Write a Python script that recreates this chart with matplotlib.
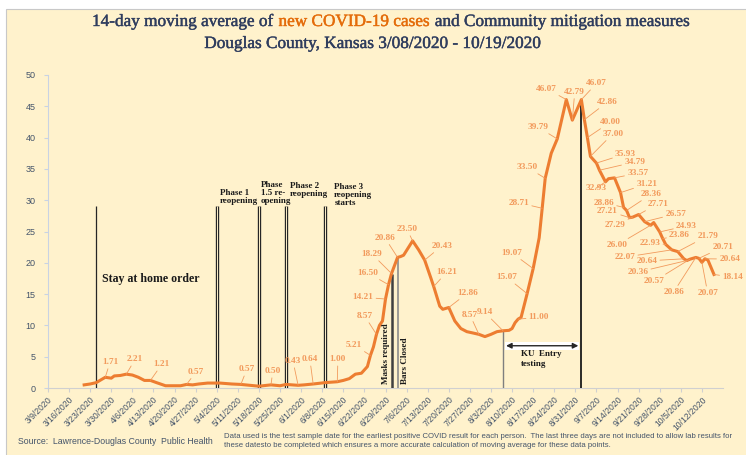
import numpy as np
import pandas as pd
import matplotlib
matplotlib.use("Agg")
import matplotlib.pyplot as plt
import matplotlib.dates as mdates
import matplotlib.patheffects as pe
from matplotlib.patches import Rectangle

# 14-day moving average of new cases
dates = ["3/21", "3/23", "3/25", "3/28", "3/30", "3/31", "4/2", "4/4", "4/6", "4/8",
         "4/10", "4/12", "4/14", "4/17", "4/22", "4/24", "4/26", "4/28", "5/1", "5/5",
         "5/9", "5/12", "5/15", "5/18", "5/22", "5/25", "5/27", "5/31", "6/2", "6/5",
         "6/9", "6/13", "6/15", "6/17", "6/19", "6/21", "6/23", "6/24", "6/25", "6/26",
         "6/27", "6/28", "6/29", "6/30", "7/1", "7/3", "7/4", "7/5", "7/8", "7/10",
         "7/12", "7/14", "7/15", "7/17", "7/18", "7/20", "7/22", "7/24", "7/26", "7/28",
         "7/30", "8/1", "8/3", "8/5", "8/7", "8/9", "8/10", "8/11", "8/12", "8/13",
         "8/15", "8/17", "8/19", "8/20", "8/21", "8/23", "8/25", "8/28", "8/30", "9/2",
         "9/3", "9/4", "9/5", "9/7", "9/8", "9/10", "9/11", "9/13", "9/15", "9/16",
         "9/17", "9/18", "9/19", "9/21", "9/23", "9/25", "9/26", "9/28", "9/29", "9/30",
         "10/2", "10/4", "10/6", "10/7", "10/8", "10/10", "10/11", "10/12", "10/13", "10/14",
         "10/16"]
cases = [0.50, 0.64, 0.86, 1.71, 1.57, 1.93, 2.00, 2.21, 2.07, 1.71,
         1.21, 1.21, 0.86, 0.36, 0.36, 0.57, 0.50, 0.64, 0.79, 0.79,
         0.64, 0.57, 0.43, 0.29, 0.50, 0.36, 0.57, 0.43, 0.50, 0.64,
         0.86, 1.00, 1.21, 1.50, 2.21, 2.36, 3.43, 5.21, 6.57, 8.57,
         10.00, 10.71, 14.21, 16.50, 18.29, 20.86, 21.00, 21.21, 23.50, 22.07,
         20.43, 17.64, 16.21, 13.07, 12.57, 12.86, 10.71, 9.50, 9.00, 8.79,
         8.57, 8.21, 8.57, 9.00, 9.14, 9.21, 9.50, 10.43, 11.00, 11.29,
         15.07, 19.07, 24.00, 28.71, 33.50, 37.50, 39.79, 46.07, 42.79, 46.07,
         42.86, 40.00, 37.00, 35.93, 34.79, 32.93, 33.43, 33.57, 31.21, 28.86,
         28.36, 27.21, 27.29, 27.71, 26.57, 26.00, 26.43, 24.93, 23.86, 22.93,
         22.07, 21.79, 20.64, 20.36, 20.57, 20.86, 20.71, 20.07, 20.64, 20.43,
         18.14]

# points with a value label, and where each label sits (days after 3/9, cases)
label_dates = ["3/28", "4/4", "4/12", "4/24", "5/12", "5/22", "5/31", "6/5", "6/13", "6/24",
               "6/26", "6/29", "6/30", "7/1", "7/3", "7/8", "7/12", "7/15", "7/20", "7/30",
               "8/7", "8/12", "8/15", "8/17", "8/20", "8/21", "8/25", "8/28", "8/30", "9/2",
               "9/3", "9/4", "9/5", "9/7", "9/8", "9/10", "9/13", "9/15", "9/16", "9/17",
               "9/18", "9/19", "9/21", "9/23", "9/25", "9/28", "9/29", "9/30", "10/2", "10/4",
               "10/6", "10/7", "10/8", "10/10", "10/11", "10/12", "10/13", "10/16"]
label_pos = [(20.6, 4.15), (28.9, 4.6), (37.8, 3.8), (49.1, 2.6), (66.0, 3.0), (74.6, 2.7),
             (81.3, 4.3), (86.9, 4.6), (96.2, 4.6), (101.5, 6.9), (105.1, 11.5), (104.5, 14.5),
             (106.1, 18.4), (107.5, 21.4), (111.8, 24.0), (119.1, 25.4), (130.7, 22.7),
             (132.3, 18.5), (139.3, 15.2), (140.0, 11.7), (144.9, 12.1), (162.9, 11.3),
             (152.2, 17.7), (153.9, 21.6), (156.2, 29.6), (158.9, 35.3), (162.5, 41.7),
             (165.5, 47.8), (174.8, 47.3), (182.1, 48.7), (185.7, 45.7), (186.7, 42.5),
             (187.4, 40.6), (191.7, 37.4), (194.7, 36.1), (181.8, 31.9), (195.7, 34.3),
             (198.7, 32.6), (184.4, 29.6), (200.3, 31.0), (185.7, 28.3), (188.1, 26.0),
             (202.3, 29.4), (208.3, 27.8), (188.7, 22.8), (211.9, 25.9), (209.6, 24.4),
             (199.7, 23.2), (191.4, 20.9), (218.9, 24.3), (198.7, 20.3), (195.7, 18.5),
             (201.3, 17.1), (207.6, 15.3), (223.9, 22.5), (218.9, 15.2), (226.2, 20.6),
             (227.2, 17.7)]

# mitigation measures
stay_home_date = "3/25"
phase_dates = ["5/4", "5/18", "5/27", "6/9"]
phase_names = ["Phase 1\nreopening", "Phase\n1.5 re-\nopening", "Phase 2\nreopening",
               "Phase 3\nreopening\nstarts"]
masks_date = "7/1"
bars_date = "7/3"
ku_start, ku_end = "8/7", "9/2"
marker_top = 29

BG = "#FFF2CC"
NAVY = "#2F3D5E"
ORANGE = "#ED7D31"
LABEL = "#F29A5C"
AXIS = "#44546A"
SERIF = "Liberation Serif"
SANS = ["Liberation Sans Narrow", "Liberation Sans"]


def to_num(md):
    return mdates.date2num(pd.to_datetime(md + "/2020", format="%m/%d/%Y"))


start = to_num("3/9")
x = np.array([to_num(d) for d in dates])
y = np.array(cases)

fig = plt.figure(figsize=(7.46, 4.55), dpi=100)
fig.patch.set_facecolor("white")
fig.add_artist(Rectangle((6 / 746, -0.02), 1.0, 1 - 9 / 455 + 0.02, transform=fig.transFigure,
                         facecolor=BG, edgecolor="#C8C8C8", lw=0.8, zorder=-10))

ax = fig.add_axes([48 / 746, 1 - 388 / 455, (723 - 48) / 746, (388 - 75) / 455])
ax.set_facecolor("none")

# curve
ax.plot(x, y, color=ORANGE, lw=2.2, zorder=5, solid_joinstyle="round")

# value labels
for d, (tx, ty) in zip(label_dates, label_pos):
    v = cases[dates.index(d)]
    ax.annotate(f"{v:.2f}", xy=(to_num(d), v), xytext=(start + tx, ty),
                textcoords="data", ha="center", va="center", fontsize=6.7,
                family=SERIF, fontweight="bold", color=LABEL, annotation_clip=False,
                arrowprops=dict(arrowstyle="-", color=LABEL, lw=0.6, shrinkA=0, shrinkB=0),
                zorder=6)

# stay at home order
ax.vlines(to_num(stay_home_date), 0, marker_top, color="#262626", lw=0.9, zorder=3)
ax.text(to_num(stay_home_date) + 2, 17.4, "Stay at home order", family=SERIF,
        fontweight="bold", fontsize=8.6, color="#1A1A1A", va="center")

# reopening phases (double lines)
phase_text_y = [29.3, 29.3, 30.4, 28.9]
phase_text_dx = [1.0, 0.6, 1.4, 3.0]
for d, name, ty, dx in zip(phase_dates, phase_names, phase_text_y, phase_text_dx):
    xd = to_num(d)
    ax.vlines(xd, 0, marker_top, color="#262626", lw=2.4, zorder=3)
    ax.vlines(xd, 0, marker_top, color=BG, lw=0.7, zorder=3.5)
    ax.text(xd + dx, ty, name, family=SERIF, fontweight="bold", fontsize=6.5,
            color="#1A1A1A", va="bottom", ha="left", linespacing=1.0)

# masks / bars
xm = to_num(masks_date)
ax.vlines(xm, 0, np.interp(xm, x, y), color="#404040", lw=1.8, zorder=4)
ax.text(xm - 1.7, 0.7, "Masks required", rotation=90, family=SERIF, fontweight="bold",
        fontsize=6.6, color="#1A1A1A", ha="center", va="bottom")
xb = to_num(bars_date)
ax.vlines(xb, 0, np.interp(xb, x, y), color="#8C8C8C", lw=1.2, zorder=4)
ax.text(xb + 2.4, 0.7, "Bars Closed", rotation=90, family=SERIF, fontweight="bold",
        fontsize=6.6, color="#1A1A1A", ha="center", va="bottom")

# KU entry testing
xs, xe = to_num(ku_start), to_num(ku_end)
ax.vlines(xs, 0, np.interp(xs, x, y), color="#7F7F7F", lw=1.0, zorder=4)
ax.vlines(xe, 0, np.interp(xe, x, y), color="#1A1A1A", lw=1.3, zorder=4)
ax.add_patch(Rectangle((xs + 0.7, 6.1), xe - xs - 1.4, 1.3, facecolor="white",
                       edgecolor="none", zorder=3))
ax.annotate("", xy=(xe - 1, 6.75), xytext=(xs + 1, 6.75),
            arrowprops=dict(arrowstyle="<|-|>", color="#262626", lw=1.0,
                            mutation_scale=8, shrinkA=0, shrinkB=0), zorder=4)
ax.text(xs + 6, 6.0, "KU  Entry\ntesting", family=SERIF, fontweight="bold", fontsize=6.5,
        color="#1A1A1A", va="top", ha="left", linespacing=1.2)

# axes
ax.set_ylim(0, 50)
ax.set_yticks(np.arange(0, 51, 5))
ax.set_xlim(start, to_num("10/19"))
ticks = pd.date_range("2020-03-09", "2020-10-12", freq="7D")
ax.set_xticks(mdates.date2num(ticks))
ax.set_xticklabels([f"{t.month}/{t.day}/{t.year}" for t in ticks], rotation=45,
                   ha="right", rotation_mode="anchor")
for lab in ax.get_xticklabels() + ax.get_yticklabels():
    lab.set_family(SANS)
    lab.set_color(AXIS)
for lab in ax.get_xticklabels():
    lab.set_fontsize(6.2)
for lab in ax.get_yticklabels():
    lab.set_fontsize(6.5)
ax.tick_params(axis="x", length=3, color="#D0D0D0", pad=2)
ax.tick_params(axis="y", length=3, color="#C9D3E3", pad=6)
for s in ["top", "right"]:
    ax.spines[s].set_visible(False)
ax.spines["left"].set_color("#C9D3E3")
ax.spines["bottom"].set_color("#D0D0D0")

# title in two colours
renderer = fig.canvas.get_renderer()


def text_width(s, **kw):
    t = fig.text(0, 0, s + "|", **kw)
    b = fig.text(0, 0, "|", **kw)
    w = t.get_window_extent(renderer).width - b.get_window_extent(renderer).width
    t.remove()
    b.remove()
    return w


title_kw = dict(family=SERIF, fontsize=12.4, va="center")
parts = [("14-day moving average of ", NAVY), ("new COVID-19 cases", "#E46C0A"),
         (" and Community mitigation measures", NAVY)]
px = 92
for s, c in parts:
    fig.text(px / 746, 1 - 22 / 455, s, color=c,
             path_effects=[pe.withStroke(linewidth=0.3, foreground=c)], **title_kw)
    px += text_width(s, **title_kw)
fig.text(373 / 746, 1 - 44 / 455, "Douglas County, Kansas 3/08/2020 - 10/19/2020",
         color=NAVY, ha="center", path_effects=[pe.withStroke(linewidth=0.3, foreground=NAVY)],
         **title_kw)

# footer
fig.text(18 / 746, 1 - 442 / 455, "Source:  Lawrence-Douglas County  Public Health",
         family=SANS, fontsize=6.3, color=AXIS, va="center")
fig.text(224 / 746, 1 - 441 / 455,
         "Data used is the test sample date for the earliest positive COVID result for each person.  "
         "The last three days are not included to allow lab results for\n"
         "these datesto be completed which ensures a more accurate calculation of moving average "
         "for these data points.",
         family=SANS, fontsize=5.6, color=AXIS, va="center", linespacing=1.5)

fig.savefig("out.png", dpi=100, facecolor=fig.get_facecolor())
